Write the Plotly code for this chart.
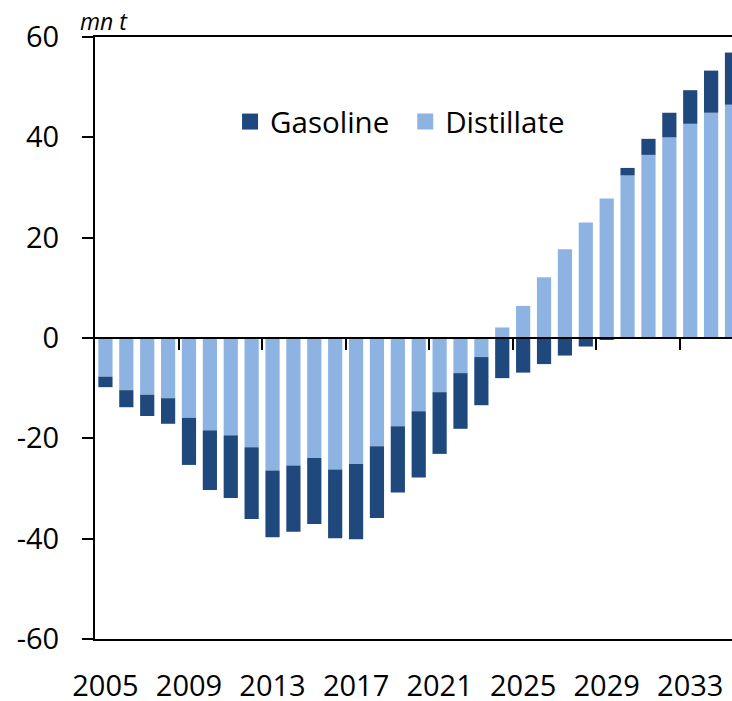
import plotly.graph_objects as go

years = list(range(2005, 2036))
distillate = [-7.7, -10.4, -11.3, -12.0, -15.9, -18.4, -19.4, -21.8, -26.4, -25.4,
              -23.9, -26.2, -25.1, -21.6, -17.6, -14.6, -10.8, -7.0, -3.8, 2.1,
              6.4, 12.1, 17.7, 23.0, 27.8, 32.4, 36.5, 40.0, 42.7, 44.9, 46.5]
gasoline = [-2.1, -3.4, -4.25, -5.1, -9.4, -11.9, -12.5, -14.3, -13.3, -13.2,
            -13.2, -13.7, -15.0, -14.3, -13.2, -13.2, -12.3, -11.1, -9.6, -8.0,
            -6.9, -5.2, -3.5, -1.7, -0.3, 1.5, 3.2, 4.9, 6.7, 8.4, 10.4]
tick_years = [2005, 2009, 2013, 2017, 2021, 2025, 2029, 2033]
boundary_ticks = [2008.5, 2012.5, 2016.5, 2020.5, 2024.5, 2028.5, 2032.5]
y_ticks = [-60, -40, -20, 0, 20, 40, 60]
y_tick_labels = ["-60", "-40", "-20", "0", "20", "40", "60"]

DARK = "#1F497D"
LIGHT = "#8DB3E2"
FONT = "Open Sans"

fig = go.Figure()
fig.add_trace(go.Bar(x=years, y=distillate, marker=dict(color=LIGHT, line=dict(width=0)),
                     showlegend=False, width=0.68))
fig.add_trace(go.Bar(x=years, y=gasoline, marker=dict(color=DARK, line=dict(width=0)),
                     showlegend=False, width=0.68))
# legend entries
fig.add_trace(go.Scatter(x=[None], y=[None], mode="markers", name="Gasoline",
                         marker=dict(symbol="square", size=20, color=DARK), legend="legend"))
fig.add_trace(go.Scatter(x=[None], y=[None], mode="markers", name="Distillate",
                         marker=dict(symbol="square", size=20, color=LIGHT), legend="legend2"))
# invisible trace for zero-line axis
fig.add_trace(go.Scatter(x=[None], y=[None], xaxis="x2", showlegend=False))

xr = [2004.5, 2035.0]
fig.update_layout(
    width=732, height=701,
    margin=dict(l=95, r=0, t=37, b=62, autoexpand=False),
    barmode="relative", bargap=0.32,
    plot_bgcolor="white", paper_bgcolor="white",
    font=dict(family=FONT, size=29, color="black"),
    xaxis=dict(range=xr, showgrid=False, zeroline=False, showline=True, mirror=True,
               linecolor="black", linewidth=2, tickmode="array", tickvals=tick_years,
               ticks="", ticklabelstandoff=20, tickfont=dict(size=29), automargin=False),
    xaxis2=dict(range=xr, overlaying="x", anchor="free", position=0.5,
                showgrid=False, zeroline=False, showline=True, linecolor="black",
                linewidth=2, tickmode="array", tickvals=boundary_ticks, ticks="outside",
                ticklen=11, tickwidth=2, tickcolor="black", showticklabels=False,
                automargin=False),
    yaxis=dict(range=[-60, 60], showgrid=False, zeroline=False, showline=True,
               linecolor="black", linewidth=2, tickmode="array", tickvals=y_ticks,
               ticktext=y_tick_labels,
               ticks="outside", ticklen=11, tickwidth=2, tickcolor="black",
               ticklabelstandoff=17, tickfont=dict(size=29), automargin=False),
    legend=dict(x=0.212, y=0.859, xanchor="left", yanchor="middle", orientation="h",
                bgcolor="rgba(0,0,0,0)", font=dict(size=29.5)),
    legend2=dict(x=0.487, y=0.859, xanchor="left", yanchor="middle", orientation="h",
                 bgcolor="rgba(0,0,0,0)", font=dict(size=29.5)),
    annotations=[dict(text="<i>mn t</i>", xref="paper", yref="paper", x=-0.027, y=1.0,
                      xanchor="left", yanchor="bottom", showarrow=False,
                      font=dict(size=23, family=FONT), yshift=-2)],
)
fig.write_html(
    "out.html",
    config={"displayModeBar": False},
    post_script=("document.documentElement.style.margin='0';"
                 "document.body.style.margin='0';"
                 "document.body.style.overflow='hidden';"
                 "document.documentElement.style.overflow='hidden';"),
)
